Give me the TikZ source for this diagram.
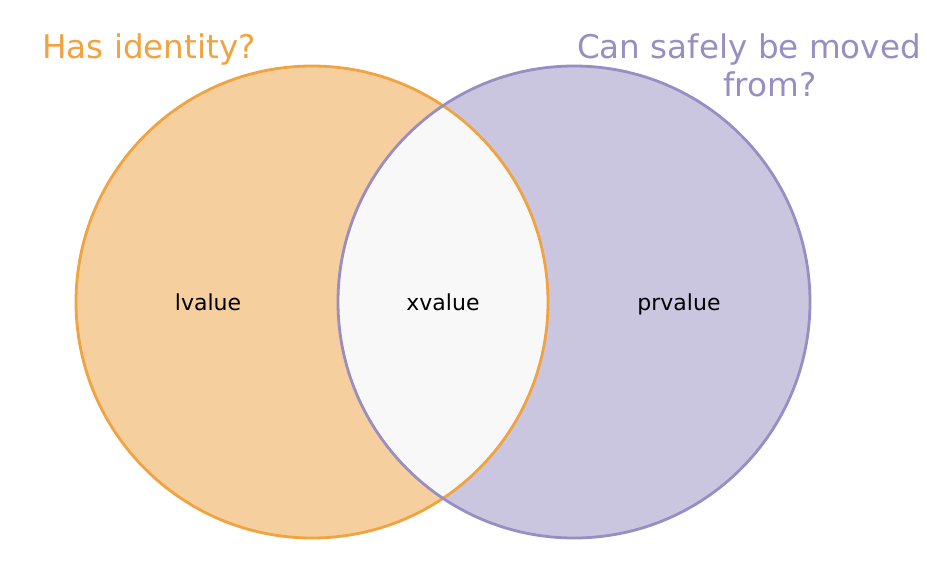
\documentclass[tikz,border=0pt]{standalone}
\usepackage{fontspec}
\setmainfont{DejaVu Sans}
\definecolor{orstroke}{HTML}{F1A340}
\definecolor{orfill}{HTML}{F5CF9E}
\definecolor{pustroke}{HTML}{998EC3}
\definecolor{pufill}{HTML}{CBC6E0}
\definecolor{midfill}{HTML}{F8F8F8}
\begin{document}
\begin{tikzpicture}[x=1pt,y=-1pt,
  setlabel/.style={font=\fontsize{22}{26}\selectfont, text=black, text height=16pt, text depth=0pt},
  titlelabel/.style={font=\fontsize{32.6}{38}\selectfont, inner sep=0pt, text height=24pt, text depth=0pt}]
\useasboundingbox (0,0) rectangle (927,579);
\fill[white] (0,0) rectangle (927,579);
\coordinate (cl) at (312,302);
\coordinate (cr) at (574,302);
\fill[orfill] (cl) circle[radius=236];
\fill[pufill] (cr) circle[radius=236];
\begin{scope}
  \clip (cl) circle[radius=236];
  \fill[midfill] (cr) circle[radius=236];
\end{scope}
\draw[orstroke, line width=2.8pt] (cl) circle[radius=236];
\draw[pustroke, line width=2.8pt] (cr) circle[radius=236];
\node[setlabel] (lv) at (208,302) {lvalue};
\node[setlabel] (xv) at (443,302) {xvalue};
\node[setlabel] (pv) at (679,302) {prvalue};
\node[titlelabel, text=orstroke, anchor=west] (hid) at (42,46) {Has identity?};
\node[titlelabel, text=pustroke] (mov1) at (749,46) {Can safely be moved};
\node[titlelabel, text=pustroke] (mov2) at (770,84) {from?};
\end{tikzpicture}
\end{document}
